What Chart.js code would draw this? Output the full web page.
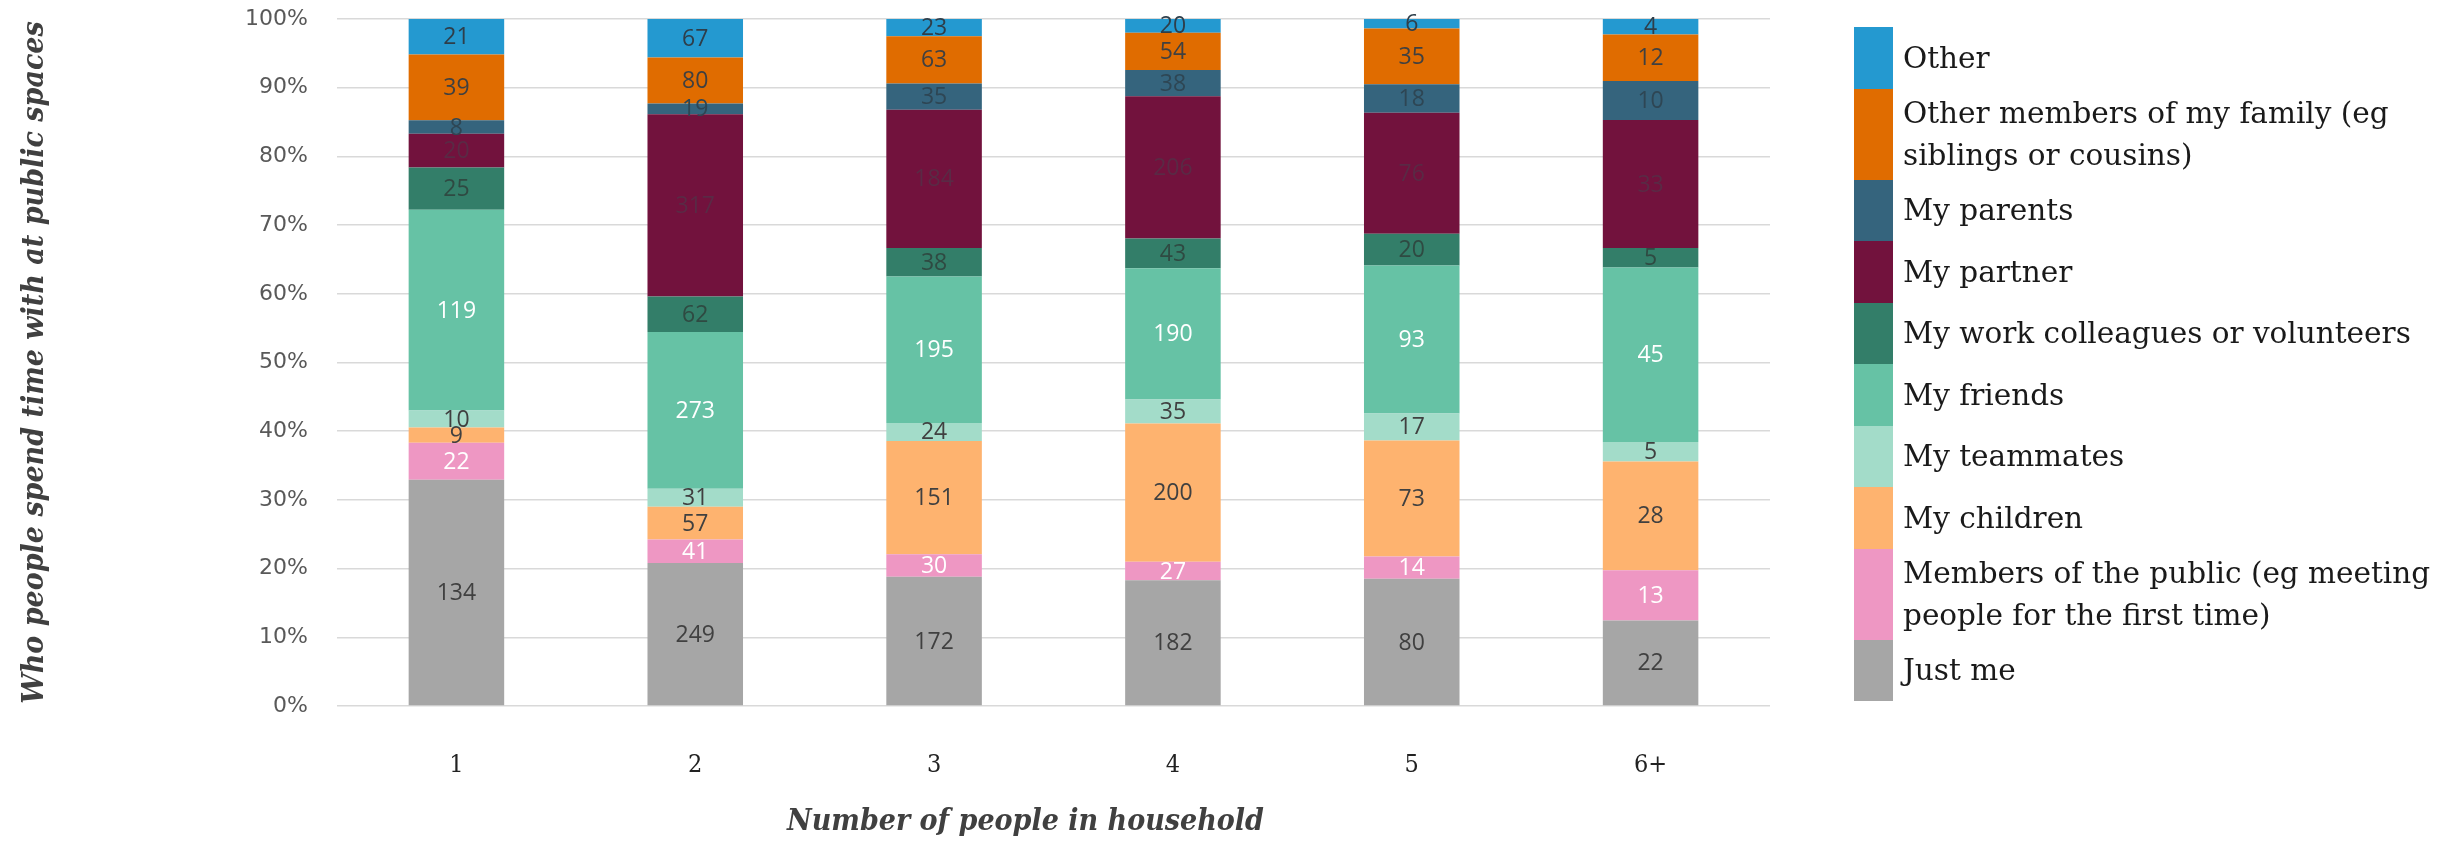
<!DOCTYPE html>
<html>
<head>
<meta charset="utf-8">
<script src="https://cdn.jsdelivr.net/npm/chart.js@4.4.1/dist/chart.umd.min.js"></script>
<style>
  html, body { margin: 0; padding: 0; background: #ffffff; }
  #wrap { position: relative; width: 2460px; height: 844px; }
  #chart { position: absolute; left: 0; top: 0; }
  #legend {
    position: absolute; left: 1854px; top: 27px;
    font-family: "DejaVu Serif", "Liberation Serif", serif;
    font-size: 29.5px; color: #1a1a1a;
  }
  .item { display: flex; align-items: center; }
  .swatch { width: 39px; align-self: stretch; flex: none; }
  .text { padding-left: 10px; line-height: 42px; white-space: nowrap; }
</style>
</head>
<body>
<div id="wrap">
  <canvas id="chart" width="2460" height="844"></canvas>
  <div id="legend"></div>
</div>
<script>
// Household size categories
const households = ['1', '2', '3', '4', '5', '6+'];

// Counts of respondents per companion type, one value per household size
const justMe          = [134, 249, 172, 182, 80, 22];
const membersOfPublic = [22, 41, 30, 27, 14, 13];
const myChildren      = [9, 57, 151, 200, 73, 28];
const myTeammates     = [10, 31, 24, 35, 17, 5];
const myFriends       = [119, 273, 195, 190, 93, 45];
const workColleagues  = [25, 62, 38, 43, 20, 5];
const myPartner       = [20, 317, 184, 206, 76, 33];
const myParents       = [8, 19, 35, 38, 18, 10];
const otherFamily     = [39, 80, 63, 54, 35, 12];
const other           = [21, 67, 23, 20, 6, 4];

// Series names (legend text, one entry per printed line)
const seriesNames = [
  ['Just me'],
  ['Members of the public (eg meeting', 'people for the first time)'],
  ['My children'],
  ['My teammates'],
  ['My friends'],
  ['My work colleagues or volunteers'],
  ['My partner'],
  ['My parents'],
  ['Other members of my family (eg', 'siblings or cousins)'],
  ['Other']
];
const seriesValues = [justMe, membersOfPublic, myChildren, myTeammates, myFriends,
                      workColleagues, myPartner, myParents, otherFamily, other];

// Percent axis tick values
const percentTicks = [0, 10, 20, 30, 40, 50, 60, 70, 80, 90, 100];

// Axis titles
const xAxisTitle = 'Number of people in household';
const yAxisTitle = 'Who people spend time with at public spaces';

// Styling
const fillColours  = ['#A6A6A6', '#EE97C3', '#FEB36F', '#A3DCC9', '#66C2A5',
                      '#337E69', '#72123D', '#35647D', '#E06C00', '#2499D0'];
const labelColours = ['#404040', '#ffffff', '#404040', '#404040', '#ffffff',
                      '#2f4a42', '#5a2a45', '#2e4654', '#404040', '#2e3e4a'];

const totals = households.map((_, i) => seriesValues.reduce((s, arr) => s + arr[i], 0));

const datasets = seriesValues.map((vals, k) => ({
  label: seriesNames[k].join(' '),
  data: vals.map((v, i) => v / totals[i] * 100),
  counts: vals,
  backgroundColor: fillColours[k],
  labelColour: labelColours[k],
  borderWidth: 0,
  categoryPercentage: 1,
  barPercentage: 0.4
}));

// Draws each segment's count in the middle of its bar piece
const segmentLabels = {
  id: 'segmentLabels',
  afterDatasetsDraw(chart) {
    const ctx = chart.ctx;
    ctx.save();
    ctx.font = '23px "Open Sans", sans-serif';
    ctx.textAlign = 'center';
    ctx.textBaseline = 'middle';
    chart.data.datasets.forEach((ds, di) => {
      const meta = chart.getDatasetMeta(di);
      meta.data.forEach((bar, i) => {
        const p = bar.getProps(['x', 'y', 'base'], true);
        ctx.fillStyle = ds.labelColour;
        ctx.fillText(String(ds.counts[i]), p.x, (p.y + p.base) / 2 + 1);
      });
    });
    ctx.restore();
  }
};

const titleFontFamily = '"DejaVu Serif Condensed", "Liberation Serif", serif';

// Category-axis title, set a little left of the plot's centre
const xTitlePlugin = {
  id: 'xTitlePlugin',
  afterDraw(chart) {
    const { ctx, chartArea } = chart;
    ctx.save();
    ctx.font = 'italic bold 30px ' + titleFontFamily;
    ctx.fillStyle = '#404040';
    ctx.textAlign = 'center';
    ctx.textBaseline = 'middle';
    ctx.fillText(xAxisTitle, (chartArea.left + chartArea.right) / 2 - 28, chart.height - 22);
    ctx.restore();
  }
};

new Chart(document.getElementById('chart'), {
  type: 'bar',
  data: { labels: households, datasets },
  plugins: [segmentLabels, xTitlePlugin],
  options: {
    responsive: false,
    animation: false,
    devicePixelRatio: 1,
    layout: { padding: { top: 19, right: 690, bottom: 0, left: 0 } },
    plugins: { legend: { display: false }, tooltip: { enabled: false } },
    scales: {
      x: {
        stacked: true,
        grid: { display: false, drawTicks: false },
        border: { display: false },
        ticks: {
          padding: 44, color: '#222222',
          font: { family: titleFontFamily, size: 25 }
        },
        title: { display: false },
        afterFit(scale) { scale.height = 138; }
      },
      y: {
        stacked: true, min: 0, max: 100,
        afterBuildTicks(scale) { scale.ticks = percentTicks.map(v => ({ value: v })); },
        ticks: {
          padding: 29, color: '#595959',
          font: { family: '"DejaVu Sans", sans-serif', size: 22 },
          callback: v => v + '%'
        },
        grid: { color: '#d9d9d9', lineWidth: 1.5, drawTicks: false },
        border: { display: false },
        title: {
          display: true, text: yAxisTitle, color: '#404040',
          font: { family: titleFontFamily, size: 30, style: 'italic', weight: 'bold' },
          padding: { top: 17, bottom: 0 }
        },
        afterFit(scale) {
          scale.width = 337;
          scale.paddingTop = 10;
          scale.paddingBottom = 10;
        }
      }
    }
  }
});

// Legend: top-most stack segment first
const legend = document.getElementById('legend');
for (let k = seriesNames.length - 1; k >= 0; k--) {
  const lines = seriesNames[k];
  const item = document.createElement('div');
  item.className = 'item';
  item.style.height = (lines.length > 1 ? 91 : 61.5) + 'px';
  const sw = document.createElement('div');
  sw.className = 'swatch';
  sw.style.background = fillColours[k];
  const tx = document.createElement('div');
  tx.className = 'text';
  tx.innerHTML = lines.map(l => l.replace(/&/g, '&amp;')).join('<br>');
  item.appendChild(sw);
  item.appendChild(tx);
  legend.appendChild(item);
}
</script>
</body>
</html>
